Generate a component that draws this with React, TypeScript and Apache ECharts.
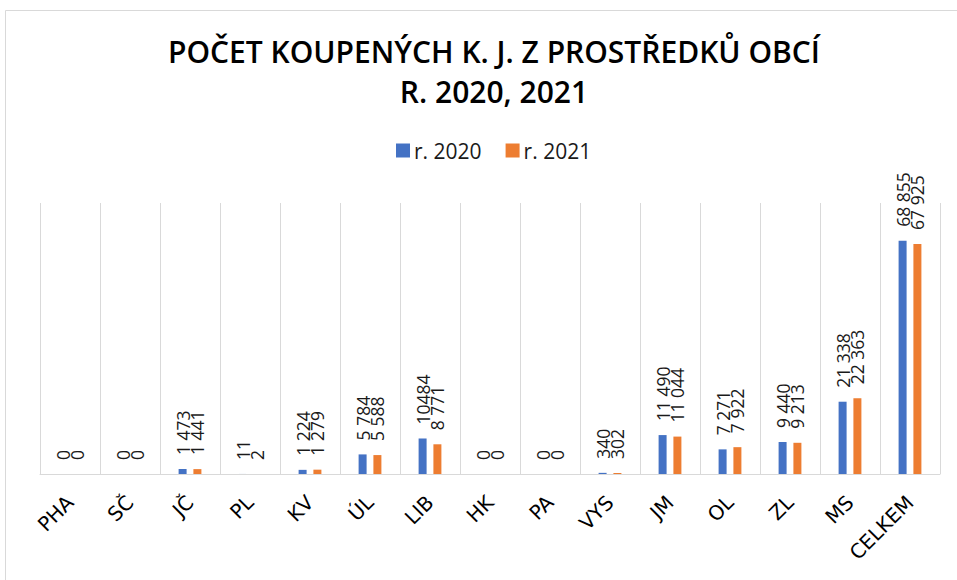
import React, { useEffect, useRef } from "react";
import * as echarts from "echarts";

const categories = ["PHA", "SČ", "JČ", "PL", "KV", "ÚL", "LIB", "HK", "PA", "VYS", "JM", "OL", "ZL", "MS", "CELKEM"];
const values2020 = [0, 0, 1473, 11, 1224, 5784, 10484, 0, 0, 340, 11490, 7271, 9440, 21338, 68855];
const values2021 = [0, 0, 1441, 2, 1279, 5588, 8771, 0, 0, 302, 11044, 7922, 9213, 22363, 67925];
const seriesNames = ["r. 2020", "r. 2021"];
// label indices (in r. 2020) that are shown without the thousands space in the reference
const noSpace2020 = [6];

const fmt = (v: number, noSpace: boolean) =>
  noSpace ? String(v) : String(v).replace(/\B(?=(\d{3})+(?!\d))/g, " ");

export default function App() {
  const ref = useRef<HTMLDivElement>(null);
  useEffect(() => {
    if (!ref.current) return;
    const chart = echarts.init(ref.current, null, { renderer: "svg" });
    const labelCfg = (noSp: number[]) => ({
      show: true,
      position: "top" as const,
      rotate: 90,
      align: "left" as const,
      verticalAlign: "middle" as const,
      distance: 14,
      fontFamily: "Open Sans",
      fontSize: 17.5,
      color: "#1a1a1a",
      formatter: (p: any) => fmt(p.value, noSp.includes(p.dataIndex)),
    });
    chart.setOption({
      animation: false,
      backgroundColor: "#fff",
      title: {
        text: "POČET KOUPENÝCH K. J. Z PROSTŘEDKŮ OBCÍ\nR. 2020, 2021",
        left: 489,
        textAlign: "center",
        top: 26,
        textStyle: {
          fontFamily: "Open Sans",
          fontWeight: 600,
          fontSize: 30,
          lineHeight: 40,
          color: "#000",
        },
      },
      legend: {
        top: 135,
        left: 391,
        itemWidth: 14,
        itemHeight: 14,
        itemGap: 24,
        icon: "rect",
        textStyle: { fontFamily: "Open Sans", fontSize: 21, color: "#1a1a1a", padding: [0, 0, 0, -1] },
        data: seriesNames,
      },
      graphic: [
        {
          type: "rect",
          shape: { x: 5.5, y: 10.5, width: 1000, height: 1000 },
          style: { fill: "none", stroke: "#D9D9D9", lineWidth: 1 },
          silent: true,
        },
      ],
      grid: { left: 40, top: 203, width: 900, height: 271 },
      xAxis: {
        type: "category",
        data: categories,
        axisLine: { lineStyle: { color: "#D9D9D9", width: 1 } },
        axisTick: { show: false },
        splitLine: { show: true, lineStyle: { color: "#D9D9D9", width: 1 } },
        axisLabel: {
          rotate: 45,
          margin: 25,
          interval: 0,
          fontFamily: "DejaVu Sans",
          fontSize: 20,
          color: "#000",
        },
      },
      yAxis: {
        type: "value",
        min: 0,
        max: 80000,
        show: false,
        splitLine: { show: false },
      },
      series: [
        {
          name: seriesNames[0],
          type: "bar",
          data: values2020,
          barWidth: 8,
          barGap: "85%",
          itemStyle: { color: "#4472C4" },
          label: labelCfg(noSpace2020),
        },
        {
          name: seriesNames[1],
          type: "bar",
          data: values2021,
          barWidth: 8,
          itemStyle: { color: "#ED7D31" },
          label: labelCfg([]),
        },
      ],
    });
    return () => chart.dispose();
  }, []);
  return <div ref={ref} style={{ position: "absolute", left: 0, top: 0, width: 957, height: 580 }} />;
}
